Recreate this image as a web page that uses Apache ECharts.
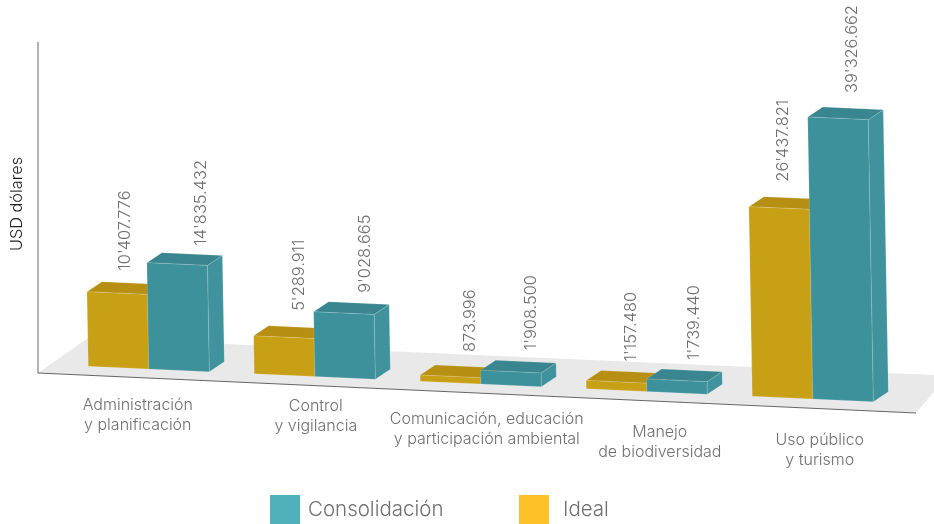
<!DOCTYPE html>
<html><head><meta charset="utf-8">
<style>html,body{margin:0;padding:0;background:#fff}#c{width:934px;height:524px}</style>
<script src="https://cdn.jsdelivr.net/npm/echarts@6/dist/echarts.min.js"></script>
</head><body><div id="c"></div>
<script>
// DATA
const categories = ['Administración\ny planificación','Control\ny vigilancia','Comunicación, educación\ny participación ambiental','Manejo\nde biodiversidad','Uso público\ny turismo'];
const ideal = [10407.776, 5289.911, 873.996, 1157.480, 26437.821];
const consolidacion = [14835.432, 9028.665, 1908.500, 1739.440, 39326.662];
const yAxisTitle = 'USD dólares';

// LAYOUT / STYLE
const FONT = 'Inter, "Liberation Sans", Arial, sans-serif';
const SLOPE = 0.045, X_REF = 148, LEAN = -0.018, DEPTH_X = 15, DEPTH_Y = -10, BAR_FRAC = 0.3645;
const idealStyle = {front:'#c8a016', top:'#b78f12', side:'#c8a016', legend:'#ffc127', dir:-1};
const consStyle  = {front:'#3d919b', top:'#398690', side:'#40939d', legend:'#4fb1b9', dir:1};
const idealLabelShift = [[8,21],[15,25],[20,23],[15,19],[4,25]];
const consLabelShift  = [[24,17],[21,19],[20,20],[17,19],[14,24]];
const catLabelShift   = [[-11,46.5],[1,39.5],[6,45.5],[13,50.5],[7,51.5]];

const fmt = v => {
  const [i,d] = v.toFixed(3).split('.');
  return i.replace(/\B(?=(\d{3})+$)/g,"'") + '.' + d;
};
const drop = x => SLOPE*(x-X_REF);

function barRenderer(st, shifts){
  return function(params, api){
    const idx = api.value(0), val = api.value(1);
    const c = api.coord([idx,0]), t = api.coord([idx,val]);
    const w = api.size([1,0])[0]*BAR_FRAC;
    const h = c[1]-t[1];
    const xa = st.dir<0 ? c[0]-w : c[0], xb = xa+w;
    const lean = LEAN*h;
    const bl=[xa,c[1]+drop(xa)], br=[xb,c[1]+drop(xb)];
    const tl=[xa+lean,bl[1]-h], tr=[xb+lean,br[1]-h];
    const bk=p=>[p[0]+DEPTH_X,p[1]+DEPTH_Y];
    const edge={stroke:'rgba(255,255,255,0.2)',lineWidth:0.7};
    const shift=shifts[idx];
    const children=[
      {type:'polygon',shape:{points:[br,tr,bk(tr),bk(br)]},style:Object.assign({fill:st.side},edge)},
      {type:'polygon',shape:{points:[tl,tr,bk(tr),bk(tl)]},style:Object.assign({fill:st.top},edge)},
      {type:'polygon',shape:{points:[bl,br,tr,tl]},style:Object.assign({fill:st.front},edge)},
      {type:'text',x:(tl[0]+tr[0])/2+shift[0],y:tl[1]-shift[1],rotation:Math.PI/2,
        style:{text:fmt(val),font:'300 16.4px '+FONT,fill:'#6f6f6f',align:'left',verticalAlign:'middle'}}
    ];
    return {type:'group',children};
  };
}
function catLabelRenderer(params, api){
  const idx=api.value(0), c=api.coord([idx,0]), s=catLabelShift[idx];
  return {type:'text',x:c[0]+s[0],y:c[1]+drop(c[0])+s[1],
    style:{text:categories[idx],font:'300 16px '+FONT,fill:'#6f6f6f',align:'center',verticalAlign:'middle',lineHeight:20}};
}
const legendBase={top:495,itemWidth:30,itemHeight:29,icon:'rect',selectedMode:false,padding:0,
  textStyle:{fontFamily:FONT,fontWeight:300,fontSize:20.5,color:'#6f6f6f',padding:[0,0,0,3]}};

const chart=echarts.init(document.getElementById('c'),null,{renderer:'canvas'});
chart.setOption({
  animation:false,
  backgroundColor:'#fff',
  grid:{left:65.8,right:38.2,top:10.5,bottom:155},
  xAxis:{type:'category',data:categories,show:false},
  yAxis:{type:'value',min:0,max:50000,show:false},
  legend:[
    Object.assign({},legendBase,{left:270,data:['Consolidación']}),
    Object.assign({},legendBase,{left:519,data:['Ideal'],textStyle:Object.assign({},legendBase.textStyle,{padding:[0,0,0,9]})})
  ],
  graphic:[
    {type:'polygon',z:0,silent:true,shape:{points:[[38,373],[916,413],[950,373],[934,375],[88,338]]},style:{fill:'#e9e9e9'}},
    {type:'polyline',z:1,silent:true,shape:{points:[[38,42],[38,373],[916,413]]},style:{stroke:'#666',lineWidth:1,fill:null}},
    {type:'text',z:1,x:17,y:204,rotation:Math.PI/2,silent:true,
      style:{text:yAxisTitle,font:'300 16.3px '+FONT,fill:'#222',align:'center',verticalAlign:'middle'}}
  ],
  series:[
    {name:'Ideal',type:'custom',coordinateSystem:'cartesian2d',silent:true,z:3,
     itemStyle:{color:idealStyle.legend},encode:{x:0,y:1},
     data:ideal.map((v,i)=>[i,v]),renderItem:barRenderer(idealStyle,idealLabelShift)},
    {name:'Consolidación',type:'custom',coordinateSystem:'cartesian2d',silent:true,z:4,
     itemStyle:{color:consStyle.legend},encode:{x:0,y:1},
     data:consolidacion.map((v,i)=>[i,v]),renderItem:barRenderer(consStyle,consLabelShift)},
    {name:'Categorías',type:'custom',coordinateSystem:'cartesian2d',silent:true,z:5,encode:{x:0},
     data:categories.map((c,i)=>[i,0]),renderItem:catLabelRenderer}
  ]
});
</script></body></html>
